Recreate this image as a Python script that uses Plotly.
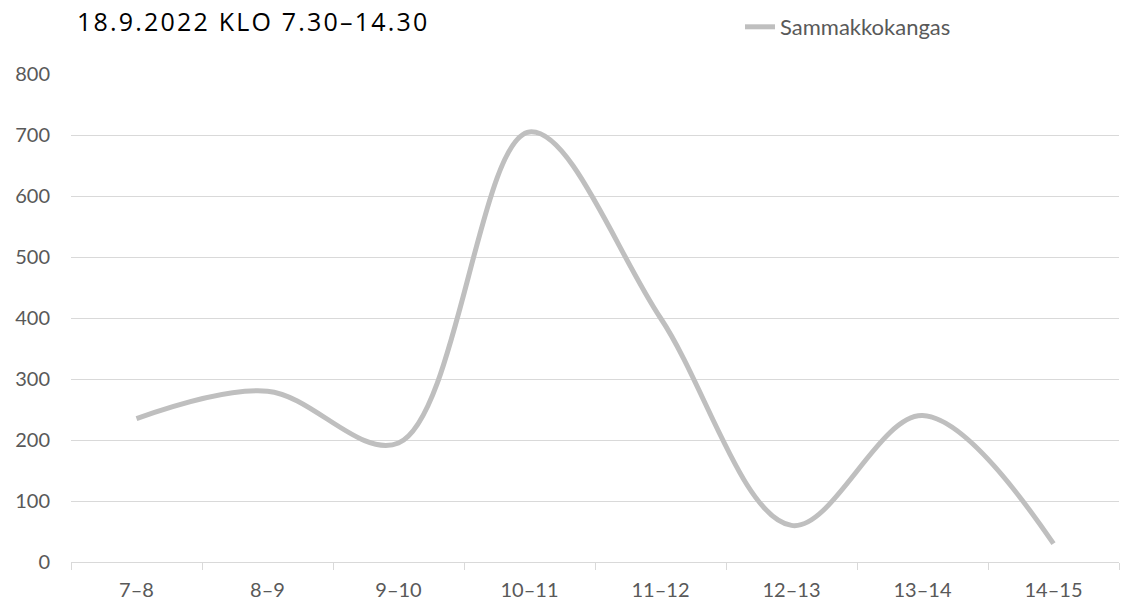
import plotly.graph_objects as go

# Hourly counts, 18.9.2022
hours = ["7–8", "8–9", "9–10", "10–11", "11–12", "12–13", "13–14", "14–15"]
counts = [235, 280, 195, 705, 400, 60, 240, 30]
series_name = "Sammakkokangas"
title_text = "18.9.2022 KLO 7.30–14.30"
y_ticks = [0, 100, 200, 300, 400, 500, 600, 700, 800]

W, H = 1121, 608
grid = "#d9d9d9"
label_col = "#595959"

fig = go.Figure()
fig.add_trace(go.Scatter(
    x=hours, y=counts, name=series_name, mode="lines",
    line=dict(color="#bfbfbf", width=5, shape="spline", smoothing=1.0),
))

fig.update_layout(
    width=W, height=H,
    margin=dict(l=71, r=2, t=74, b=46),
    paper_bgcolor="white", plot_bgcolor="white",
    title=dict(
        text=f'<span style="letter-spacing:2.2px">{title_text}</span>',
        x=77 / W, xanchor="left", xref="container",
        y=1 - 22 / H, yanchor="middle", yref="container",
        font=dict(family="Open Sans", size=25, color="#000000", weight=500),
    ),
    showlegend=True,
    legend=dict(
        orientation="h", x=740 / W, xanchor="left", xref="container",
        y=1 - 27 / H, yanchor="middle", yref="container",
        font=dict(family="Lato", size=22, color=label_col),
        bgcolor="rgba(0,0,0,0)",
    ),
    xaxis=dict(
        type="category", range=[-0.5, len(hours) - 0.5],
        tickson="boundaries", ticks="outside", ticklen=7,
        tickcolor=grid, showline=True, linecolor=grid, linewidth=1,
        showgrid=False, tickfont=dict(family="Lato", size=20, color=label_col),
        ticklabelstandoff=10, fixedrange=True,
    ),
    yaxis=dict(
        range=[0, 800], tickvals=y_ticks, showgrid=True, gridcolor=grid,
        gridwidth=1, zeroline=False, showline=False, ticks="",
        tickfont=dict(family="Lato", size=20, color=label_col),
        ticklabelstandoff=20, fixedrange=True,
    ),
)

fig.write_html("out.html")
